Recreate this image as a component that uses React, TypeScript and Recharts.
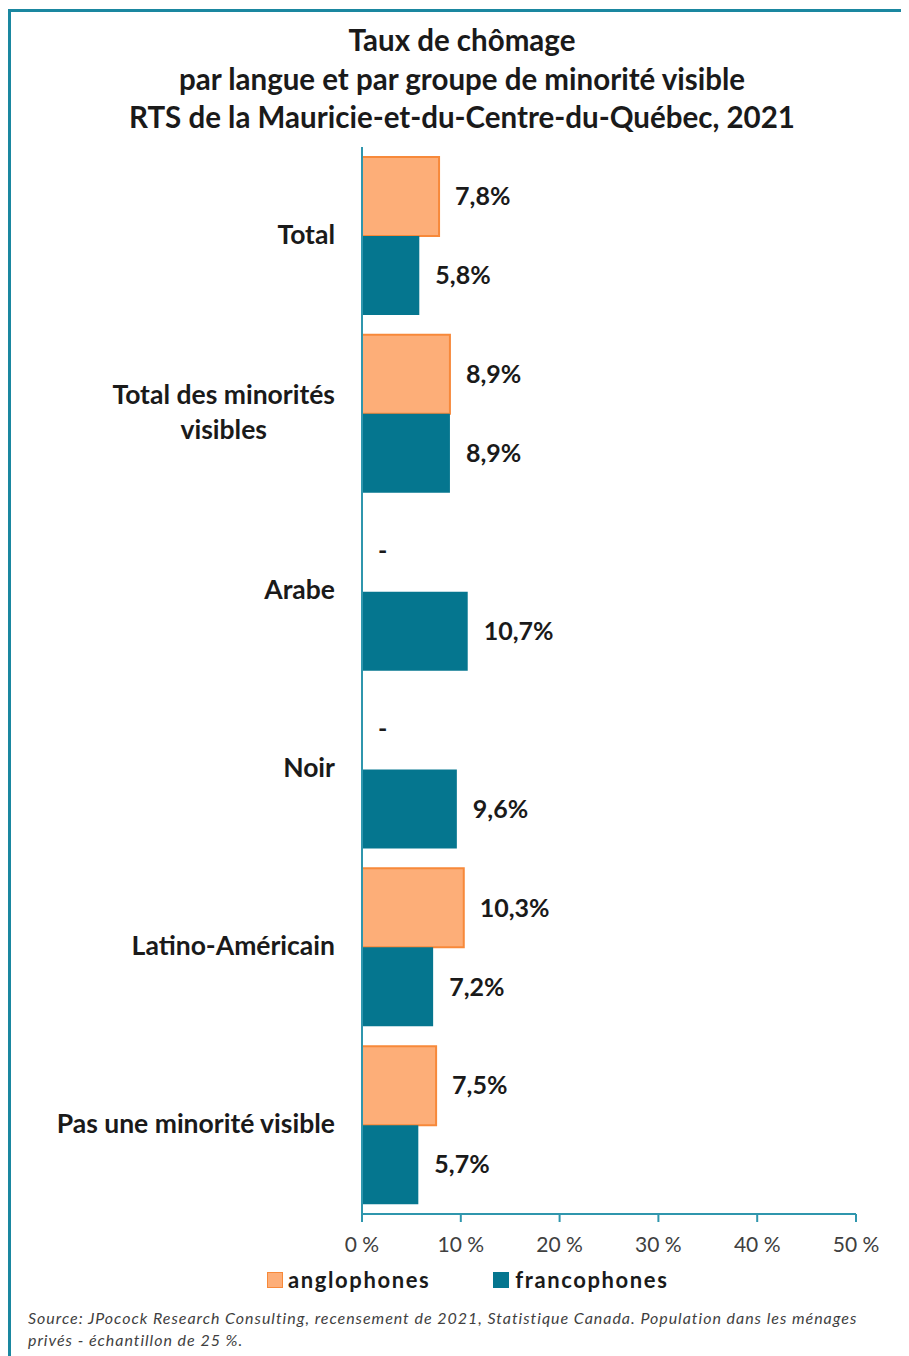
import React, { useLayoutEffect, useRef, useState } from "react"
import { BarChart, Bar, XAxis, YAxis, LabelList } from "recharts"

// categories, top to bottom
const categories = [
 "Total",
 "Total des minorités\nvisibles",
 "Arabe",
 "Noir",
 "Latino-Américain",
 "Pas une minorité visible"
]

// null = no data ("-")
const anglophones: (number | null)[] = [7.8, 8.9, null, null, 10.3, 7.5]
const francophones: number[] = [5.8, 8.9, 10.7, 9.6, 7.2, 5.7]

const xTicks = [0, 10, 20, 30, 40, 50]

const ORANGE = "#fdae78"
const ORANGE_STROKE = "#f7893a"
const TEAL = "#05768f"
const AXIS = "#2f96ad"
const FONT = "Lato, 'Open Sans', sans-serif"

const chartData = categories.map((c, i) => ({
 cat: c,
 angl: anglophones[i] ?? 0,
 franc: francophones[i]
}))

const fmt = (v: number) => v.toFixed(1).replace(".", ",") + "%"

const labelStyle = {
 fontFamily: FONT,
 fontWeight: 700,
 fontSize: 25,
 fill: "#1a1a1a"
}

function CatTick(props: any) {
 const { x, y, payload } = props
 const lines = String(payload.value).split("\n")
 const ref = useRef<SVGGElement>(null)
 const [w, setW] = useState(0)

 useLayoutEffect(() => {
  if (!ref.current) return
  let m = 0
  ref.current.querySelectorAll("text").forEach(t => {
   m = Math.max(m, t.getComputedTextLength())
  })
  setW(m)
 }, [payload.value])

 const lh = 35
 const multi = lines.length > 1
 return (
  <g ref={ref}>
   {lines.map((l, i) => (
    <text
     key={i}
     x={multi ? x - w / 2 : x}
     y={y - 1.5 + (i - (lines.length - 1) / 2) * lh}
     dy="0.35em"
     textAnchor={multi ? "middle" : "end"}
     fontFamily={FONT}
     fontWeight={700}
     fontSize={26.5}
     fill="#1a1a1a"
    >
     {l}
    </text>
   ))}
  </g>
 )
}

function AnglLabel(props: any) {
 const { x, y, width, height, value } = props
 if (!value) return null
 return (
  <text x={x + width + 16} y={y + height / 2} dy="0.35em" {...labelStyle}>
   {fmt(value)}
  </text>
 )
}

// francophone label; also puts the "-" in the empty anglophone slot above
function FrancLabel(props: any) {
 const { x, y, width, height, value, index } = props
 return (
  <g>
   <text x={x + width + 16} y={y + height / 2} dy="0.35em" {...labelStyle}>
    {fmt(value)}
   </text>
   {anglophones[index] === null && (
    <text x={x + 16} y={y - height / 2 - 2} dy="0.35em" {...labelStyle}>
     -
    </text>
   )}
  </g>
 )
}

export default function App() {
 return (
  <div style={{ position: "relative", width: 901, height: 1348, overflow: "hidden", background: "#fff" }}>

   {/* frame */}
   <div style={{ position: "absolute", left: 0, top: 1, width: 1000, height: 2000, borderTop: `3px solid #1a87a0`, borderLeft: `3px solid #1a87a0` }} />

   <div
    style={{
     position: "absolute", left: 0, top: 13, width: 908, textAlign: "center",
     fontFamily: FONT, fontWeight: 700, fontSize: 29.5, lineHeight: "38.5px", color: "#1a1a1a"
    }}
   >
    Taux de chômage<br />
    par langue et par groupe de minorité visible<br />
    RTS de la Mauricie-et-du-Centre-du-Québec, 2021
   </div>

   <div style={{ position: "absolute", left: 0, top: 0 }}>
    <BarChart
     width={901}
     height={1348}
     data={chartData}
     layout="vertical"
     margin={{ top: 139, right: 53, bottom: 102, left: 0 }}
     barCategoryGap={10}
     barGap={0}
    >
     <XAxis
      type="number"
      domain={[0, 50]}
      ticks={xTicks}
      tickFormatter={(v: number) => `${v} %`}
      axisLine={{ stroke: AXIS, strokeWidth: 2 }}
      tickLine={{ stroke: AXIS, strokeWidth: 2 }}
      tickSize={8}
      tickMargin={15}
      height={40}
      tick={{ fontFamily: FONT, fontSize: 21, fill: "#404040" }}
     />
     <YAxis
      type="category"
      dataKey="cat"
      width={354}
      axisLine={{ stroke: AXIS, strokeWidth: 2 }}
      tickLine={false}
      tickSize={0}
      tickMargin={27}
      interval={0}
      tick={<CatTick />}
     />
     <Bar dataKey="angl" fill={ORANGE} stroke={ORANGE_STROKE} strokeWidth={2} isAnimationActive={false}>
      <LabelList dataKey="angl" content={<AnglLabel />} />
     </Bar>
     <Bar dataKey="franc" fill={TEAL} isAnimationActive={false}>
      <LabelList dataKey="franc" content={<FrancLabel />} />
     </Bar>
    </BarChart>
   </div>

   {/* legend */}
   <div style={{ position: "absolute", left: 259, top: 1258, display: "flex", alignItems: "center", fontFamily: FONT, fontWeight: 700, fontSize: 22, letterSpacing: 1.6, color: "#1a1a1a" }}>
    <span style={{ width: 14, height: 14, background: ORANGE, border: `1px solid ${ORANGE_STROKE}`, marginRight: 5 }} />
    <span>anglophones</span>
    <span style={{ width: 16, height: 16, background: TEAL, marginLeft: 63, marginRight: 6 }} />
    <span>francophones</span>
   </div>

   {/* source */}
   <div style={{ position: "absolute", left: 20, top: 1299, fontFamily: FONT, fontStyle: "italic", fontSize: 16, letterSpacing: 0.97, lineHeight: "22px", color: "#3f3f3f" }}>
    Source: JPocock Research Consulting, recensement de 2021, Statistique Canada. Population dans les ménages<br />
    privés - échantillon de 25 %.
   </div>
  </div>
 )
}
